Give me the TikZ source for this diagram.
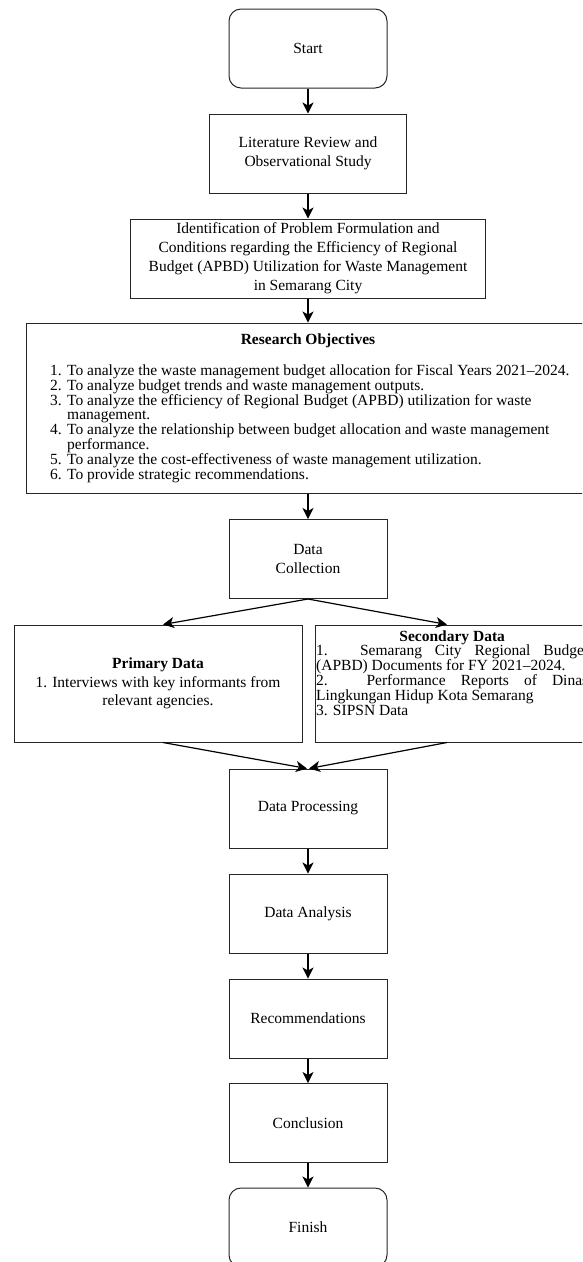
\documentclass[tikz,border=0pt]{standalone}
\usepackage{fontspec}
\setmainfont{Liberation Serif}
\usetikzlibrary{arrows.meta,calc}
\lineskiplimit=-30pt
\begin{document}
\begin{tikzpicture}[x=1pt,y=-1pt,
  box/.style={draw=black!85,line width=1pt,inner sep=0pt,align=center,font=\fontsize{15.5}{19}\selectfont},
  std/.style={box,minimum width=158pt,minimum height=79pt},
  term/.style={std,rounded corners=12pt},
  arr/.style={draw=black,line width=1.2pt,-{Stealth[length=11pt,width=11pt,inset=3pt]}},
]
\useasboundingbox (0,0) rectangle (582,1262);
\clip (0,0) rectangle (582,1262);
\node[term] (start) at (308,48.5) {Start};
\node[box,minimum width=197pt,minimum height=79pt] (lit) at (308,153.5) {Literature Review and\\Observational Study};
\node[box,minimum width=355pt,minimum height=79pt] (ident) at (308,258.5) {Identification of Problem Formulation and\\Conditions regarding the Efficiency of Regional\\Budget (APBD) Utilization for Waste Management\\in Semarang City};
\node[box,minimum width=564pt,minimum height=170pt] (obj) at (308,408) {};
\node[anchor=base,inner sep=0pt,font=\bfseries\fontsize{15.5}{19}\selectfont] (objtitle) at (308,344) {Research Objectives};
\node[anchor=base west,inner sep=0pt,font=\fontsize{15.5}{13.9}\selectfont] (objlist) at (50,375) {\parbox[t]{540pt}{\raggedright
\makebox[17pt][l]{1.}To analyze the waste management budget allocation for Fiscal Years 2021–2024.\\
\makebox[17pt][l]{2.}To analyze budget trends and waste management outputs.\\
\makebox[17pt][l]{3.}To analyze the efficiency of Regional Budget (APBD) utilization for waste\\
\hspace*{17pt}management.\\
\makebox[17pt][l]{4.}To analyze the relationship between budget allocation and waste management\\
\hspace*{17pt}performance.\\
\makebox[17pt][l]{5.}To analyze the cost-effectiveness of waste management utilization.\\
\makebox[17pt][l]{6.}To provide strategic recommendations.}};
\node[std] (coll) at (308,559) {Data\\Collection};
\node[box,minimum width=288pt,minimum height=117pt,font=\fontsize{15.5}{18.5}\selectfont] (prim) at (158,683.5) {\textbf{Primary Data}\\1. Interviews with key informants from\\relevant agencies.};
\node[box,minimum width=276pt,minimum height=117pt] (sec) at (453,683.5) {};
\node[anchor=base west,inner sep=0pt,font=\fontsize{15.5}{14.8}\selectfont] (sectext) at (316,641) {\parbox[t]{272pt}{{\centering\textbf{Secondary Data}\par}
1. Semarang City Regional Budget\linebreak (APBD) Documents for FY 2021–2024.\par
2. Performance Reports of Dinas\linebreak Lingkungan Hidup Kota Semarang\par
3. SIPSN Data}};
\node[std] (proc) at (308,808.5) {Data Processing};
\node[std] (anal) at (308,913.5) {Data Analysis};
\node[std] (rec) at (308,1018.5) {Recommendations};
\node[std] (conc) at (308,1123) {Conclusion};
\node[term] (fin) at (308,1227.5) {Finish};
\draw[arr] (start.south) -- (lit.north);
\draw[arr] (lit.south) -- (ident.north);
\draw[arr] (ident.south) -- (obj.north);
\draw[arr] (obj.south) -- (coll.north);
\draw[arr] (coll.south) -- ([xshift=5pt]prim.north);
\draw[arr] (coll.south) -- ([xshift=-6pt]sec.north);
\draw[arr] ([xshift=5pt]prim.south) -- ([xshift=-1pt]proc.north);
\draw[arr] ([xshift=-6pt]sec.south) -- ([xshift=1pt]proc.north);
\draw[arr] (proc.south) -- (anal.north);
\draw[arr] (anal.south) -- (rec.north);
\draw[arr] (rec.south) -- (conc.north);
\draw[arr] (conc.south) -- (fin.north);
\end{tikzpicture}
\end{document}
